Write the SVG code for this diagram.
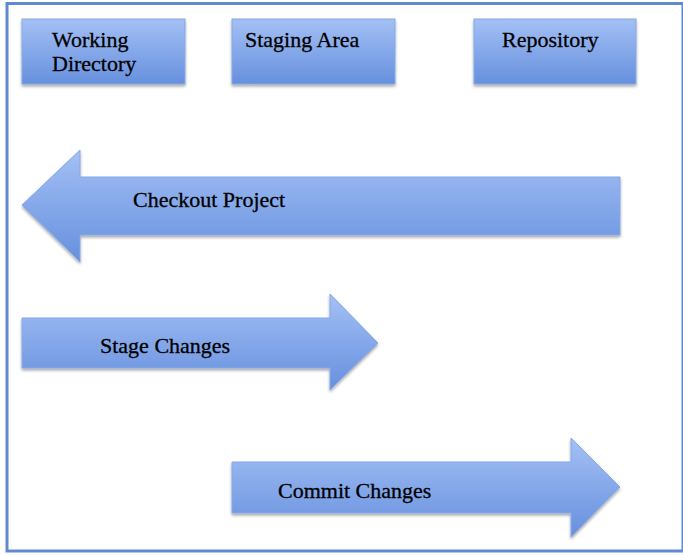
<svg xmlns="http://www.w3.org/2000/svg" width="683" height="555" viewBox="0 0 683 555">
<style>
.lbl{font-family:"Liberation Serif","DejaVu Serif",serif;font-size:22px;fill:#000;stroke:#000;stroke-width:0.3}
.shape{fill:url(#g);stroke:#86a8e6;stroke-width:1;filter:url(#sh)}
</style>
<defs>
<linearGradient id="g" x1="0" y1="0" x2="0" y2="1">
<stop offset="0" stop-color="#a4c0f5"/>
<stop offset="1" stop-color="#6690de"/>
</linearGradient>
<filter id="sh" x="-10%" y="-10%" width="120%" height="130%">
<feGaussianBlur in="SourceAlpha" stdDeviation="1.5"/>
<feOffset dx="0" dy="2" result="b"/>
<feComponentTransfer><feFuncA type="linear" slope="0.35"/></feComponentTransfer>
<feMerge><feMergeNode/><feMergeNode in="SourceGraphic"/></feMerge>
</filter>
</defs>
<rect x="0" y="0" width="683" height="555" fill="#fff"/>
<rect x="7" y="3.5" width="676" height="547.5" fill="none" stroke="#6189d2" stroke-width="3"/>
<g id="working-directory">
<rect class="shape" x="22" y="19" width="163" height="65"/>
<text class="lbl" x="52" y="47">Working</text>
<text class="lbl" x="52" y="71">Directory</text>
</g>
<g id="staging-area">
<rect class="shape" x="232" y="19" width="163" height="65"/>
<text class="lbl" x="245" y="47">Staging Area</text>
</g>
<g id="repository">
<rect class="shape" x="474" y="19" width="162" height="65"/>
<text class="lbl" x="502" y="47">Repository</text>
</g>
<g id="connectors">
<g id="checkout-project">
<polygon class="shape" points="22,205 80,150 80,177 620,177 620,235 80,235 80,262"/>
<text class="lbl" x="133" y="207">Checkout Project</text>
</g>
<g id="stage-changes">
<polygon class="shape" points="22,318 330,318 330,294 378,343 330,390 330,368 22,368"/>
<text class="lbl" x="100" y="353">Stage Changes</text>
</g>
<g id="commit-changes">
<polygon class="shape" points="232,462 571,462 571,438 620,487 571,537 571,513 232,513"/>
<text class="lbl" x="278" y="498">Commit Changes</text>
</g>
</g>
</svg>
